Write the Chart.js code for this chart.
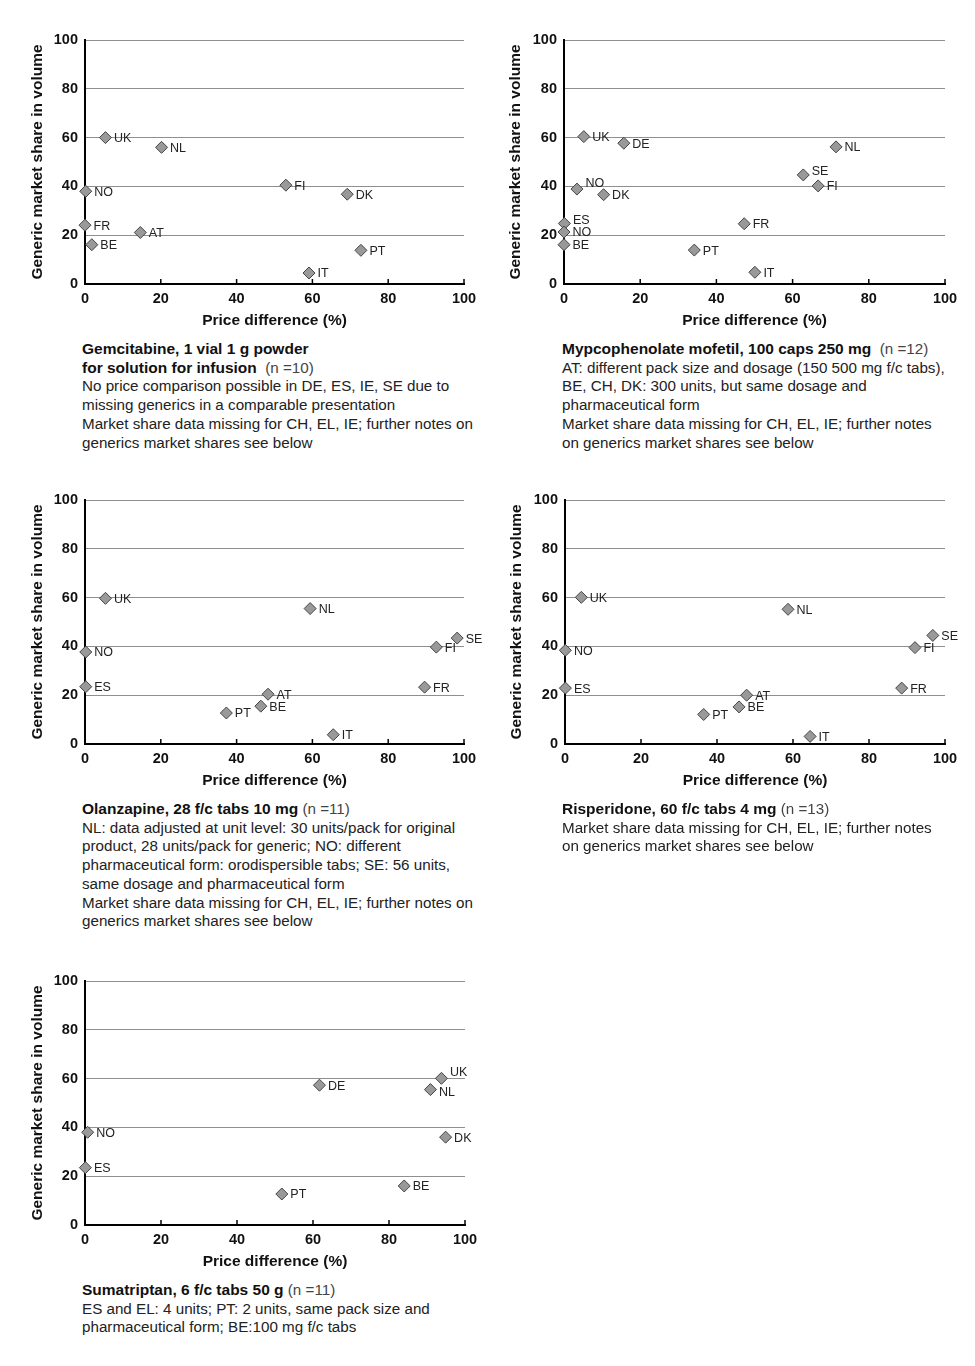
<!DOCTYPE html>
<html>
<head>
<meta charset="utf-8">
<script src="https://cdn.jsdelivr.net/npm/chart.js@4/dist/chart.umd.min.js"></script>
<style>
  body { margin: 0; background: #fff; width: 975px; height: 1366px; position: relative; font-family: "Liberation Sans", Arial, sans-serif; }
  canvas { position: absolute; }
  .cap { position: absolute; font-size: 15.2px; line-height: 18.7px; color: #222; white-space: nowrap; }
  .cap b { color: #111; font-size: 15.5px; }
  .cap .n { color: #444; }
</style>
</head>
<body>
<canvas id="c1" width="490" height="320" style="left:0;top:20px"></canvas>
<canvas id="c2" width="495" height="320" style="left:480px;top:20px"></canvas>
<canvas id="c3" width="490" height="320" style="left:0;top:480px"></canvas>
<canvas id="c4" width="495" height="320" style="left:480px;top:480px"></canvas>
<canvas id="c5" width="490" height="320" style="left:0;top:961px"></canvas>

<div class="cap" style="left:82px;top:340px">
  <b>Gemcitabine, 1 vial 1 g powder<br>for solution for infusion</b>&nbsp; <span class="n">(n =10)</span><br>
  No price comparison possible in DE, ES, IE, SE due to<br>missing generics in a comparable presentation<br>
  Market share data missing for CH, EL, IE; further notes on<br>generics market shares see below
</div>
<div class="cap" style="left:562px;top:340px">
  <b>Mypcophenolate mofetil, 100 caps 250 mg</b>&nbsp; <span class="n">(n =12)</span><br>
  AT: different pack size and dosage (150 500 mg f/c tabs),<br>BE, CH, DK: 300 units, but same dosage and<br>pharmaceutical form<br>
  Market share data missing for CH, EL, IE; further notes<br>on generics market shares see below
</div>
<div class="cap" style="left:82px;top:800px">
  <b>Olanzapine, 28 f/c tabs 10 mg</b> <span class="n">(n =11)</span><br>
  NL: data adjusted at unit level: 30 units/pack for original<br>product, 28 units/pack for generic; NO: different<br>pharmaceutical form: orodispersible tabs; SE: 56 units,<br>same dosage and pharmaceutical form<br>
  Market share data missing for CH, EL, IE; further notes on<br>generics market shares see below
</div>
<div class="cap" style="left:562px;top:800px">
  <b>Risperidone, 60 f/c tabs 4 mg</b> <span class="n">(n =13)</span><br>
  Market share data missing for CH, EL, IE; further notes<br>on generics market shares see below
</div>
<div class="cap" style="left:82px;top:1281px">
  <b>Sumatriptan, 6 f/c tabs 50 g</b> <span class="n">(n =11)</span><br>
  ES and EL: 4 units; PT: 2 units, same pack size and<br>pharmaceutical form; BE:100 mg f/c tabs
</div>

<script>
// Valores: diferença de preço (%) e quota de mercado dos genéricos (%)
const axisTicks = [0, 20, 40, 60, 80, 100];

const gemCountries = ['UK', 'NL', 'NO', 'FR', 'BE', 'AT', 'FI', 'DK', 'PT', 'IT'];
const gemPrice = [5.4, 20.2, 0.2, 0, 1.8, 14.6, 53.0, 69.2, 72.8, 59.1];
const gemShare = [60, 56, 38, 24.1, 16.1, 21.1, 40.5, 36.8, 13.8, 4.5];

const mycCountries = ['UK', 'DE', 'NL', 'SE', 'FI', 'NO', 'DK', 'ES', 'NO', 'BE', 'FR', 'PT', 'IT'];
const mycPrice = [5.2, 15.7, 71.4, 62.8, 66.7, 3.4, 10.4, 0.1, 0, 0, 47.3, 34.2, 50.1];
const mycShare = [60.4, 57.7, 56.2, 44.7, 40.2, 38.9, 36.6, 24.8, 21.3, 16.1, 24.7, 13.9, 4.8];

const olaCountries = ['UK', 'NL', 'NO', 'ES', 'SE', 'FI', 'FR', 'AT', 'BE', 'PT', 'IT'];
const olaPrice = [5.4, 59.4, 0.2, 0.2, 98.2, 92.7, 89.6, 48.3, 46.4, 37.3, 65.5];
const olaShare = [59.7, 55.5, 37.7, 23.5, 43.4, 39.7, 23.3, 20.4, 15.5, 12.7, 3.8];

const risCountries = ['UK', 'NL', 'NO', 'ES', 'SE', 'FI', 'FR', 'AT', 'BE', 'PT', 'IT'];
const risPrice = [4.3, 58.7, 0.1, 0.1, 96.8, 92.1, 88.6, 47.8, 45.8, 36.5, 64.5];
const risShare = [60.1, 55.2, 38.4, 22.9, 44.5, 39.5, 22.9, 20.0, 15.2, 12.1, 3.1];

const sumCountries = ['DE', 'UK', 'NL', 'NO', 'DK', 'ES', 'BE', 'PT'];
const sumPrice = [61.7, 93.8, 90.9, 0.7, 94.9, 0.1, 84.0, 51.8];
const sumShare = [57.3, 60.1, 55.5, 38.0, 36.0, 23.5, 16.0, 12.7];

Chart.defaults.font.family = '"Liberation Sans", Arial, sans-serif';
Chart.defaults.color = '#111';

// Marcas de escala do eixo x desenhadas para dentro da área do gráfico
const innerTicks = {
    id: 'innerTicks',
    beforeDatasetsDraw(chart) {
        const ctx = chart.ctx;
        const x = chart.scales.x;
        const bottom = chart.chartArea.bottom;
        ctx.save();
        ctx.strokeStyle = '#000';
        ctx.lineWidth = 1.5;
        axisTicks.forEach(v => {
            if (v === 0) return;
            const px = x.getPixelForValue(v);
            ctx.beginPath();
            ctx.moveTo(px, bottom);
            ctx.lineTo(px, bottom - 5);
            ctx.stroke();
        });
        ctx.restore();
    }
};

// Rótulos dos países ao lado de cada ponto
const pointLabels = {
    id: 'pointLabels',
    afterDatasetsDraw(chart) {
        const ctx = chart.ctx;
        const nudge = chart.options.plugins.pointLabels.nudge || {};
        const names = chart.options.plugins.pointLabels.names;
        const meta = chart.getDatasetMeta(0);
        ctx.save();
        ctx.font = '12.5px "Liberation Sans", Arial, sans-serif';
        ctx.fillStyle = '#222';
        ctx.textBaseline = 'middle';
        ctx.textAlign = 'left';
        meta.data.forEach((pt, i) => {
            const dy = nudge[i] !== undefined ? nudge[i] : 1;
            ctx.fillText(names[i], pt.x + 8.5, pt.y + dy);
        });
        ctx.restore();
    }
};

function criarGrafico(id, countries, price, share, yWidth, padRight, titleX, nudge) {
    const ctx = document.getElementById(id).getContext('2d');
    const pontos = price.map((p, i) => ({ x: p, y: share[i] }));

    return new Chart(ctx, {
        type: 'scatter',
        data: {
            datasets: [{
                data: pontos,
                pointStyle: 'rectRot',
                pointRadius: 6,
                pointHoverRadius: 6,
                backgroundColor: '#999',
                borderColor: '#444',
                borderWidth: 1,
                clip: false
            }]
        },
        options: {
            responsive: false,
            animation: false,
            layout: { padding: { top: 20, right: padRight, left: 0, bottom: 0 } },
            scales: {
                x: {
                    type: 'linear',
                    min: 0,
                    max: 100,
                    afterBuildTicks: s => { s.ticks = axisTicks.map(v => ({ value: v })); },
                    afterFit: s => { s.height = 56; s.paddingRight = 0; s.paddingLeft = 0; },
                    grid: { display: false, drawTicks: false },
                    border: { display: true, color: '#000', width: 2 },
                    ticks: { padding: 6, font: { size: 14.5, weight: 'bold' }, color: '#111' },
                    title: {
                        display: true,
                        text: 'Price difference (%)',
                        font: { size: 15.5, weight: 'bold' },
                        color: '#111',
                        padding: { top: 0, bottom: 9.7 }
                    }
                },
                y: {
                    type: 'linear',
                    min: 0,
                    max: 100,
                    afterBuildTicks: s => { s.ticks = axisTicks.map(v => ({ value: v })); },
                    afterFit: s => { s.width = yWidth; },
                    grid: {
                        drawTicks: false,
                        color: c => (c.tick && c.tick.value === 0) ? 'rgba(0,0,0,0)' : '#8f8f8f',
                        lineWidth: 1
                    },
                    border: { display: true, color: '#000', width: 2 },
                    ticks: { padding: 7, font: { size: 14.5, weight: 'bold' }, color: '#111' },
                    title: {
                        display: true,
                        text: 'Generic market share in volume',
                        font: { size: 15.5, weight: 'bold' },
                        color: '#111',
                        padding: { top: titleX - 9.3, bottom: 0 }
                    }
                }
            },
            plugins: {
                legend: { display: false },
                tooltip: { enabled: false },
                pointLabels: { names: countries, nudge: nudge }
            }
        },
        plugins: [innerTicks, pointLabels]
    });
}

criarGrafico('c1', gemCountries, gemPrice, gemShare, 85, 26, 38, {});
criarGrafico('c2', mycCountries, mycPrice, mycShare, 84, 30, 36, { 5: -6, 3: -3, 7: -3 });
criarGrafico('c3', olaCountries, olaPrice, olaShare, 85, 26, 38, {});
criarGrafico('c4', risCountries, risPrice, risShare, 85, 30, 37, {});
criarGrafico('c5', sumCountries, sumPrice, sumShare, 85, 25, 38, { 1: -6, 2: 3 });
</script>
</body>
</html>
